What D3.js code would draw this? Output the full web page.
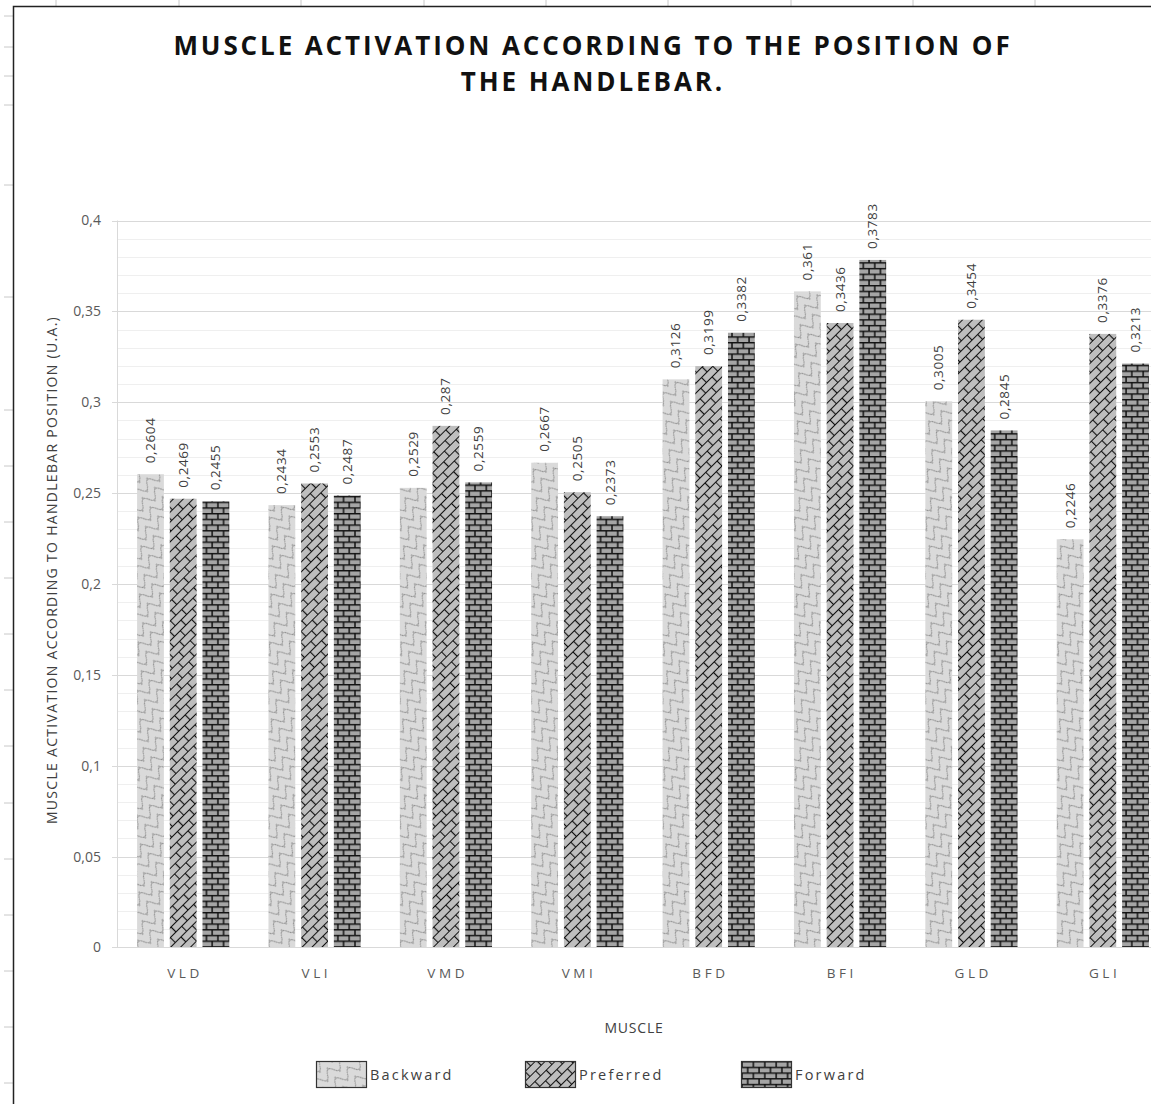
<!DOCTYPE html>
<html>
<head>
<meta charset="utf-8">
<script src="https://cdn.jsdelivr.net/npm/d3@7"></script>
<style>
  html, body { margin: 0; padding: 0; background: #fff; }
  svg { display: block; font-family: "Open Sans", "DejaVu Sans", sans-serif; }
</style>
</head>
<body>
<svg id="chart" width="1151" height="1104"></svg>
<script>
// Muscles measured (x categories)
const categories = ["VLD", "VLI", "VMD", "VMI", "BFD", "BFI", "GLD", "GLI"];
// Handlebar positions (series)
const series = ["Backward", "Preferred", "Forward"];
// Mean activation per muscle for each handlebar position
const backward  = [0.2604, 0.2434, 0.2529, 0.2667, 0.3126, 0.361,  0.3005, 0.2246];
const preferred = [0.2469, 0.2553, 0.287,  0.2505, 0.3199, 0.3436, 0.3454, 0.3376];
const forward   = [0.2455, 0.2487, 0.2559, 0.2373, 0.3382, 0.3783, 0.2845, 0.3213];
// Axis ticks
const yMajorTicks = [0, 0.05, 0.1, 0.15, 0.2, 0.25, 0.3, 0.35, 0.4];
const yMinorTicks = d3.range(0, 41).map(i => i / 100);

const seriesValues = { Backward: backward, Preferred: preferred, Forward: forward };
const fmt = v => String(+v.toFixed(4)).replace(".", ",");

const svg = d3.select("#chart");
const defs = svg.append("defs");

// Fill patterns for the three series
// Backward: light shingle waves
const pb = defs.append("pattern").attr("id", "pat-backward")
  .attr("patternUnits", "userSpaceOnUse").attr("width", 16).attr("height", 12)
  .attr("patternTransform", "rotate(-40)");
pb.append("rect").attr("x", -1).attr("y", -1).attr("width", 18).attr("height", 14).attr("fill", "#dadada");
pb.append("path")
  .attr("d", "M0,6 C2.7,0.5 5.3,0.5 8,6 C10.7,11.5 13.3,11.5 16,6 M4,1.9 C4,0.5 4.5,-0.5 4,-1 M12,10.1 C12,11.5 11.5,12.5 12,13")
  .attr("fill", "none").attr("stroke", "#909090").attr("stroke-width", 1);

// Preferred: diagonal bricks
const pp = defs.append("pattern").attr("id", "pat-preferred")
  .attr("patternUnits", "userSpaceOnUse").attr("width", 16).attr("height", 14)
  .attr("patternTransform", "rotate(-45)");
pp.append("rect").attr("width", 16).attr("height", 14).attr("fill", "#bebebe");
pp.append("path")
  .attr("d", "M0,0.5 H16 M0,7.5 H16 M0.5,0 V7 M8.5,7 V14")
  .attr("fill", "none").attr("stroke", "#111").attr("stroke-width", 1.2);

// Forward: horizontal bricks
const pf = defs.append("pattern").attr("id", "pat-forward")
  .attr("patternUnits", "userSpaceOnUse").attr("width", 11.4).attr("height", 11.4);
pf.append("rect").attr("width", 11.4).attr("height", 11.4).attr("fill", "#a5a5a5");
pf.append("path")
  .attr("d", "M0,0.75 H11.4 M0,6.45 H11.4 M1,0 V5.7 M6.7,5.7 V11.4")
  .attr("fill", "none").attr("stroke", "#111").attr("stroke-width", 1.5);

const fills = { Backward: "url(#pat-backward)", Preferred: "url(#pat-preferred)", Forward: "url(#pat-forward)" };

// Chart frame and the sheet's cell marks around it
const frame = svg.append("g");
[56, 179, 301, 424, 546, 668, 791, 913, 1035].forEach(x => {
  frame.append("line").attr("x1", x).attr("x2", x).attr("y1", 0).attr("y2", 6)
    .attr("stroke", "#c8c8c8").attr("stroke-width", 1);
});
[16, 47, 76, 105, 185, 297, 410, 466, 522, 578, 634, 690, 746, 803, 859, 915, 971, 1027, 1083].forEach(y => {
  frame.append("line").attr("x1", 4).attr("x2", 13).attr("y1", y).attr("y2", y)
    .attr("stroke", "#c8c8c8").attr("stroke-width", 1);
});
frame.append("path").attr("d", "M13.5,1104 V6.5 H1151")
  .attr("fill", "none").attr("stroke", "#222").attr("stroke-width", 1.5);

// Title
const title = svg.append("text").attr("text-anchor", "middle")
  .attr("font-size", 26).attr("font-weight", 700).attr("fill", "#111")
  .attr("letter-spacing", 2.9);
title.append("tspan").attr("x", 593).attr("y", 55).text("MUSCLE ACTIVATION ACCORDING TO THE POSITION OF");
title.append("tspan").attr("x", 593).attr("y", 91).text("THE HANDLEBAR.");

// Scales
const x0 = d3.scaleBand().domain(categories).range([117.5, 1168.5]).padding(0);
const groupWidth = 92.2;
const x1 = d3.scaleBand().domain(series).range([0, groupWidth]).paddingInner(0.18).paddingOuter(0);
const groupOffset = (x0.bandwidth() - groupWidth) / 2;
const y = d3.scaleLinear().domain([0, 0.4]).range([947.5, 220.5]);

// Gridlines
const grid = svg.append("g");
grid.selectAll("line.minor").data(yMinorTicks.filter(t => !yMajorTicks.some(m => Math.abs(m - t) < 1e-9)))
  .join("line").attr("class", "minor")
  .attr("x1", 118).attr("x2", 1151)
  .attr("y1", d => Math.round(y(d)) + 0.5).attr("y2", d => Math.round(y(d)) + 0.5)
  .attr("stroke", "#efefef").attr("stroke-width", 1);
grid.selectAll("line.major").data(yMajorTicks.filter(t => t > 0))
  .join("line").attr("class", "major")
  .attr("x1", 112).attr("x2", 1151)
  .attr("y1", d => Math.round(y(d)) + 0.5).attr("y2", d => Math.round(y(d)) + 0.5)
  .attr("stroke", "#d9d9d9").attr("stroke-width", 1);

// Y axis line and labels
svg.append("line").attr("x1", 117.5).attr("x2", 117.5).attr("y1", y(0.4)).attr("y2", y(0))
  .attr("stroke", "#d9d9d9");
svg.append("g").selectAll("text").data(yMajorTicks).join("text")
  .attr("x", 101).attr("y", d => y(d)).attr("dy", "0.35em")
  .attr("text-anchor", "end").attr("font-size", 14).attr("fill", "#595959")
  .text(d => String(+d.toFixed(2)).replace(".", ","));

// Bars
const groups = svg.append("g").selectAll("g").data(categories).join("g")
  .attr("transform", d => `translate(${x0(d) + groupOffset},0)`);

groups.each(function(cat, i) {
  const g = d3.select(this);
  series.forEach(s => {
    const v = seriesValues[s][i];
    g.append("rect")
      .attr("x", x1(s)).attr("width", x1.bandwidth())
      .attr("y", y(v)).attr("height", y(0) - y(v))
      .attr("fill", fills[s]);
    g.append("text")
      .attr("transform", `translate(${x1(s) + x1.bandwidth() / 2 + 4.5},${y(v) - 11}) rotate(-90)`)
      .attr("font-size", 13.5).attr("fill", "#404040").attr("letter-spacing", 0.6)
      .text(fmt(v));
  });
});

// X axis line and category labels
svg.append("line").attr("x1", 112).attr("x2", 1151).attr("y1", 947.5).attr("y2", 947.5)
  .attr("stroke", "#d9d9d9");
svg.append("g").selectAll("text").data(categories).join("text")
  .attr("x", d => x0(d) + x0.bandwidth() / 2 + 1.8).attr("y", 978)
  .attr("text-anchor", "middle").attr("font-size", 13.5).attr("fill", "#595959")
  .attr("letter-spacing", 3.6)
  .text(d => d);

// Axis titles
svg.append("text").attr("x", 634).attr("y", 1033).attr("text-anchor", "middle")
  .attr("font-size", 14).attr("fill", "#404040").attr("letter-spacing", 0.8).text("MUSCLE");
svg.append("text")
  .attr("transform", `translate(57,${(y(0) + y(0.4)) / 2 - 14}) rotate(-90)`)
  .attr("text-anchor", "middle").attr("font-size", 14).attr("fill", "#404040")
  .attr("letter-spacing", 1.3)
  .text("MUSCLE ACTIVATION ACCORDING TO HANDLEBAR POSITION (U.A.)");

// Legend
const legendX = { Backward: 316, Preferred: 525, Forward: 741 };
const legend = svg.append("g").selectAll("g").data(series).join("g")
  .attr("transform", d => `translate(${legendX[d]},1061)`);
legend.append("rect").attr("x", 0.5).attr("y", 0.5).attr("width", 50).attr("height", 26)
  .attr("fill", d => fills[d]).attr("stroke", "#333").attr("stroke-width", 1.2);
legend.append("text").attr("x", 54).attr("y", 14).attr("dy", "0.35em")
  .attr("font-size", 14.5).attr("fill", "#404040").attr("letter-spacing", 2.2)
  .text(d => d);
</script>
</body>
</html>
